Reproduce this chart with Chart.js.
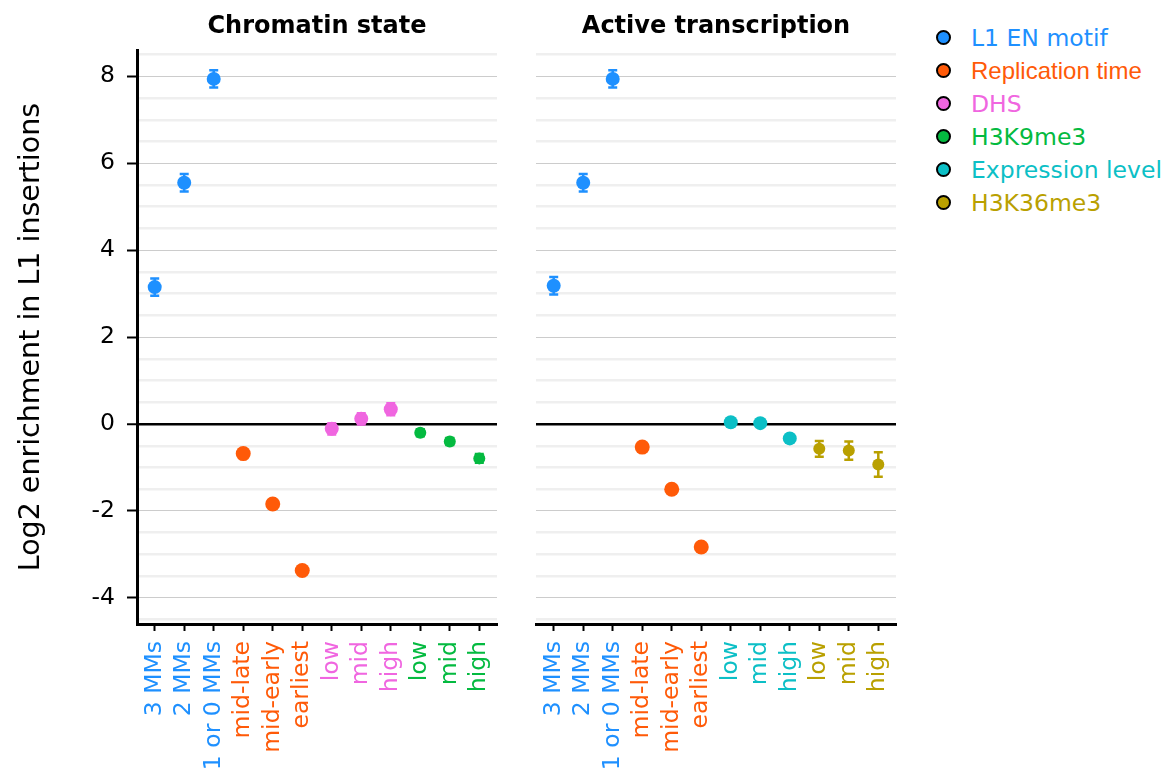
<!DOCTYPE html>
<html>
<head>
<meta charset="utf-8">
<script src="https://cdn.jsdelivr.net/npm/chart.js@4"></script>
<style>
  body { margin: 0; background: #fff; font-family: 'DejaVu Sans'; }
  #wrap { position: relative; width: 1170px; height: 774px; }
  canvas { position: absolute; top: 0; }
  #legend { position: absolute; left: 936px; top: 21px; }
  .item { height: 33px; display: flex; align-items: center; font-size: 23.5px; }
  .dot { width: 11px; height: 11px; border-radius: 50%; border: 2px solid #000; margin-right: 20px; }
</style>
</head>
<body>
<div id="wrap">
  <canvas id="chromatinChart" width="510" height="774" style="left:0px"></canvas>
  <canvas id="transcriptionChart" width="390" height="774" style="left:520px"></canvas>
  <div id="legend"></div>
</div>
<script>
// categories on the x axis (same for both panels)
var categories = ['3 MMs', '2 MMs', '1 or 0 MMs', 'mid-late', 'mid-early', 'earliest', 'low', 'mid', 'high', 'low', 'mid', 'high'];

// feature groups
var groupNames = ['L1 EN motif', 'Replication time', 'DHS', 'H3K9me3', 'Expression level', 'H3K36me3'];
var groupColors = ['#1e90ff', '#ff5a08', '#f066e0', '#04ba40', '#0cbfc6', '#b9a000'];

// Chromatin state panel
var chromatinGroups = [0, 0, 0, 1, 1, 1, 2, 2, 2, 3, 3, 3];
var chromatinValues = [3.15, 5.55, 7.94, -0.68, -1.84, -3.37, -0.11, 0.12, 0.34, -0.2, -0.4, -0.79];
var chromatinErrors = [0.2, 0.2, 0.2, 0.04, 0.04, 0.08, 0.13, 0.13, 0.14, 0.08, 0.08, 0.1];

// Active transcription panel
var transcriptionGroups = [0, 0, 0, 1, 1, 1, 4, 4, 4, 5, 5, 5];
var transcriptionValues = [3.18, 5.55, 7.94, -0.53, -1.5, -2.83, 0.04, 0.02, -0.33, -0.57, -0.61, -0.93];
var transcriptionErrors = [0.2, 0.2, 0.2, 0.04, 0.04, 0.04, 0.04, 0.04, 0.04, 0.18, 0.21, 0.28];

// labelled y ticks
var yTickLabels = [-4, -2, 0, 2, 4, 6, 8];

var radiusOf = [7, 7.5, 7, 6, 7, 6];

Chart.defaults.font.family = 'DejaVu Sans';
Chart.defaults.color = '#000';

var errorBars = {
  id: 'errorBars',
  beforeDatasetsDraw: function(chart) {
    var ctx = chart.ctx, ys = chart.scales.y, xs = chart.scales.x;
    chart.data.datasets.forEach(function(ds) {
      ds.data.forEach(function(p) {
        var x = xs.getPixelForValue(p.x);
        var y1 = ys.getPixelForValue(p.y + p.err);
        var y2 = ys.getPixelForValue(p.y - p.err);
        ctx.save();
        ctx.strokeStyle = ds.backgroundColor;
        ctx.lineWidth = 2.5;
        ctx.beginPath();
        ctx.moveTo(x, y1); ctx.lineTo(x, y2);
        ctx.moveTo(x - 4.5, y1); ctx.lineTo(x + 4.5, y1);
        ctx.moveTo(x - 4.5, y2); ctx.lineTo(x + 4.5, y2);
        ctx.stroke();
        ctx.restore();
      });
    });
  }
};

function buildDatasets(groups, values, errors) {
  var out = [];
  groups.forEach(function(g, i) {
    var ds = out.find(function(d) { return d.group === g; });
    if (!ds) {
      ds = { group: g, label: groupNames[g], data: [], backgroundColor: groupColors[g],
             pointRadius: radiusOf[g], pointBorderWidth: 0, pointHoverRadius: radiusOf[g] };
      out.push(ds);
    }
    ds.data.push({ x: i, y: values[i], err: errors[i] });
  });
  return out;
}

function makeChart(id, title, groups, values, errors, showY) {
  var ctx = document.getElementById(id).getContext('2d');
  return new Chart(ctx, {
    type: 'scatter',
    data: { datasets: buildDatasets(groups, values, errors) },
    options: {
      responsive: false,
      animation: false,
      layout: { padding: { left: 0, right: showY ? 13 : 14, top: 0, bottom: 0 } },
      plugins: {
        legend: { display: false },
        tooltip: { enabled: false },
        title: {
          display: true, text: title, fullSize: false,
          font: { size: 24, weight: 'bold' },
          padding: { top: 12, bottom: 9.4 }
        }
      },
      scales: {
        x: {
          type: 'linear', min: -0.6, max: 11.6,
          afterBuildTicks: function(s) { s.ticks = categories.map(function(c, i) { return { value: i }; }); },
          afterFit: function(s) { s.height = 150; s.paddingLeft = 0; s.paddingRight = 0; },
          border: { display: true, color: '#000', width: 3 },
          grid: { drawOnChartArea: false, drawTicks: true, tickLength: 7, tickColor: '#000', tickWidth: 2 },
          ticks: {
            autoSkip: false, minRotation: 90, maxRotation: 90, padding: 10,
            font: { size: 23.5 },
            callback: function(v) { return categories[v]; },
            color: function(c) { return groupColors[groups[c.index]]; }
          }
        },
        y: {
          min: -4.6, max: 8.6,
          afterBuildTicks: function(s) {
            var t = [];
            for (var v = -4.5; v <= 8.5; v += 0.5) t.push({ value: v });
            s.ticks = t;
          },
          afterFit: function(s) { s.width = showY ? 137 : 16; s.paddingTop = 0; s.paddingBottom = 0; },
          border: { display: showY, color: '#000', width: 3 },
          grid: {
            drawTicks: showY, tickLength: 10, tickWidth: 2,
            tickColor: function(c) { return yTickLabels.indexOf(c.tick.value) >= 0 ? '#000' : 'transparent'; },
            color: function(c) {
              var v = c.tick.value;
              if (v === 0) return '#000';
              return yTickLabels.indexOf(v) >= 0 ? '#cccccc' : '#efefef';
            },
            lineWidth: function(c) {
              var v = c.tick.value;
              if (v === 0) return 2.5;
              return yTickLabels.indexOf(v) >= 0 ? 1 : 2.5;
            }
          },
          ticks: {
            display: showY, autoSkip: false, padding: 12, font: { size: 23.5 },
            callback: function(v) { return yTickLabels.indexOf(v) >= 0 ? String(v) : ''; }
          },
          title: {
            display: showY, text: 'Log2 enrichment in L1 insertions',
            font: { size: 28.5 }, padding: { top: 14, bottom: 0 }
          }
        }
      }
    },
    plugins: [errorBars]
  });
}

makeChart('chromatinChart', 'Chromatin state', chromatinGroups, chromatinValues, chromatinErrors, true);
makeChart('transcriptionChart', 'Active transcription', transcriptionGroups, transcriptionValues, transcriptionErrors, false);

// legend
var legend = document.getElementById('legend');
groupNames.forEach(function(name, i) {
  var row = document.createElement('div');
  row.className = 'item';
  row.style.color = groupColors[i];
  if (name === 'Replication time') { row.style.fontFamily = 'Liberation Sans'; row.style.fontSize = '24px'; }
  row.innerHTML = '<span class="dot" style="background:' + groupColors[i] + '"></span>' + name;
  legend.appendChild(row);
});
</script>
</body>
</html>
